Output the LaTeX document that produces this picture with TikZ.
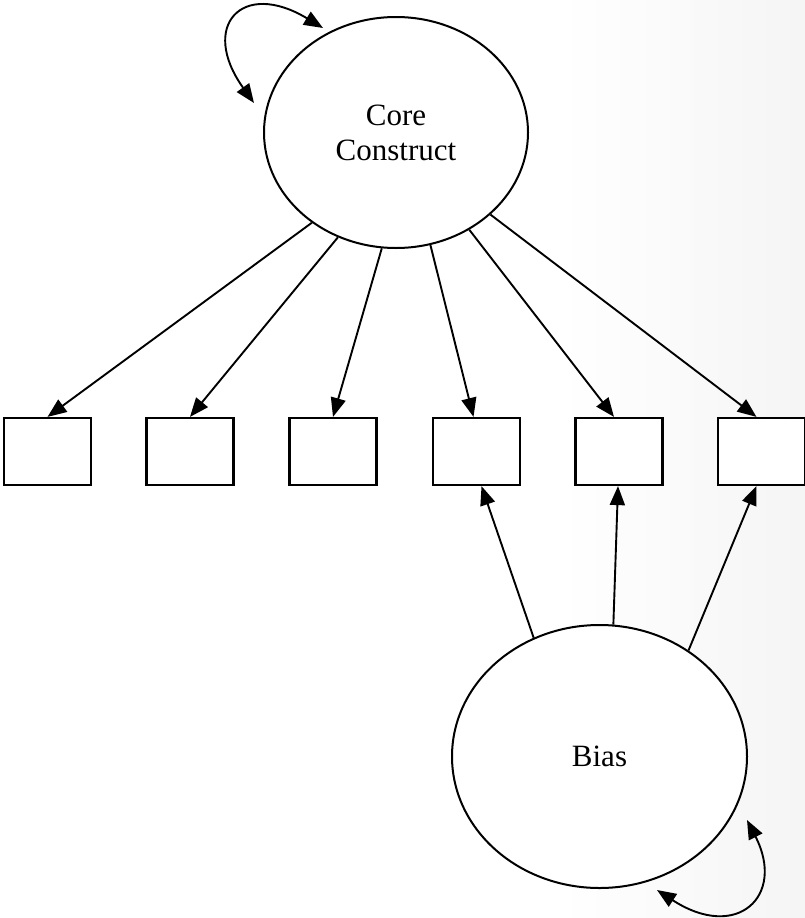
\documentclass[tikz,border=0pt]{standalone}
\usepackage{fontspec}
\setmainfont{Liberation Serif}
\usetikzlibrary{arrows.meta,shapes.geometric}
\begin{document}
\begin{tikzpicture}[x=1pt,y=-1pt,
  latent/.style={ellipse,draw,fill=white,line width=2pt,inner sep=0pt,
    font=\fontsize{31}{35}\selectfont,align=center},
  indicator/.style={rectangle,draw,fill=white,line width=2.2pt,
    minimum width=87pt,minimum height=67pt,inner sep=0pt},
  loading/.style={line width=1.9pt,-{Triangle[length=19pt,width=15pt]}},
  variance/.style={line width=1.9pt,{Triangle[length=19pt,width=15pt]}-{Triangle[length=19pt,width=15pt]}}]

% canvas and the faint grey fade on the right
\useasboundingbox (0,0) rectangle (805,918);
\fill[white] (0,0) rectangle (805,918);
\shade[left color=white,right color=black!4] (560,0) rectangle (805,918);

% latent variables
\node[latent,minimum width=264pt,minimum height=231pt] (core) at (396,132.5) {Core\\Construct};
\node[latent,minimum width=295pt,minimum height=263pt] (bias) at (599.5,756.5) {Bias};

% observed indicators
\node[indicator] (b1) at (47.5,451.5) {};
\node[indicator] (b2) at (190,451.5) {};
\node[indicator] (b3) at (333,451.5) {};
\node[indicator] (b4) at (476.5,451.5) {};
\node[indicator] (b5) at (619,451.5) {};
\node[indicator] (b6) at (761.5,451.5) {};

% loadings on the core construct
\draw[loading] (core.227.1) -- (b1.north);
\draw[loading] (core.241.4) -- (b2.north);
\draw[loading] (core.263.1) -- (b3.north);
\draw[loading] (core.287.9) -- ([xshift=-3pt]b4.north);
\draw[loading] (core.307.5) -- ([xshift=-5pt]b5.north);
\draw[loading] (core.319.4) -- ([xshift=-5pt]b6.north);

% loadings on the bias factor
\draw[loading] (bias.119.1) -- ([xshift=5pt]b4.south);
\draw[loading] (bias.84.6) -- ([xshift=-1pt]b5.south);
\draw[loading] (bias.50.9) -- ([xshift=-5pt]b6.south);

% variances
\coordinate (cva) at (254,103);
\coordinate (cvb) at (323,28);
\draw[variance] (cva) .. controls (199,26) and (242,-21) .. (cvb);

\coordinate (bva) at (747,820);
\coordinate (bvb) at (657,890);
\draw[variance] (bva) .. controls (786,896) and (737,942) .. (bvb);
\end{tikzpicture}
\end{document}
